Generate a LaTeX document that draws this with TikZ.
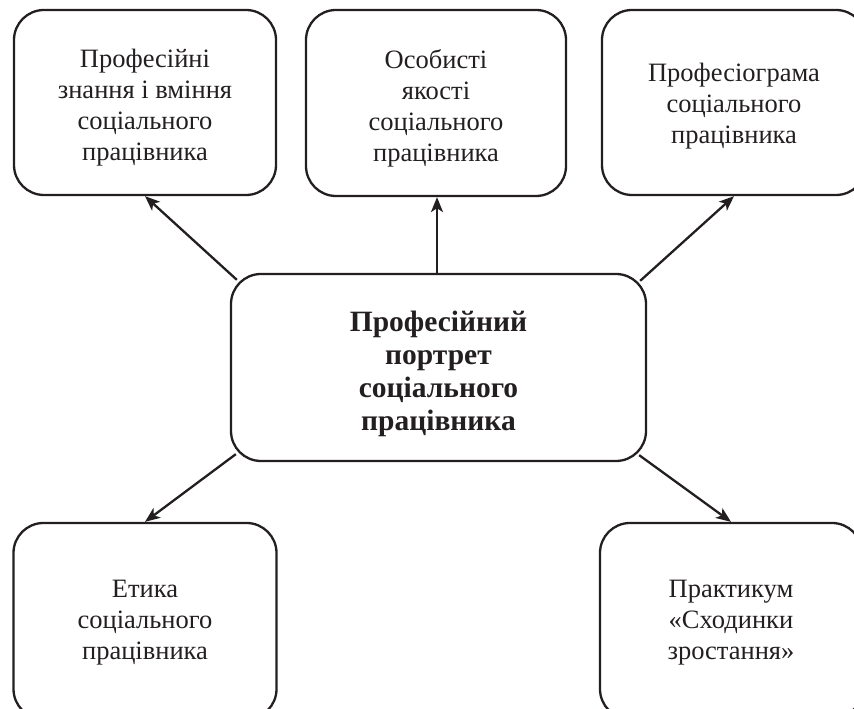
\documentclass[tikz,border=0pt]{standalone}
\usepackage{fontspec}
\setmainfont{Liberation Serif}
\usetikzlibrary{arrows.meta,calc}
\definecolor{ink}{HTML}{231F20}
\tikzset{
  box/.style={draw=ink, line width=2.3pt, rounded corners=30pt, inner sep=0pt},
  lbl/.style={align=center, inner sep=0pt, text=ink, font=\fontsize{26.5pt}{31pt}\selectfont},
  blbl/.style={align=center, inner sep=0pt, text=ink, font=\fontsize{29.5pt}{33pt}\selectfont\bfseries},
  arr/.style={draw=ink, line width=2.3pt, -{Stealth[length=15pt,width=12pt,inset=4pt]}}
}
\begin{document}
\begin{tikzpicture}[x=1pt,y=1pt]
\useasboundingbox (0,0) rectangle (854,709);
\clip (0,0) rectangle (854,709);
\node[box, minimum width=262pt, minimum height=185pt] (tl) at (145,606.5) {};
\node[box, minimum width=260pt, minimum height=186pt] (tm) at (436,606) {};
\node[box, minimum width=264pt, minimum height=185pt] (tr) at (734,606.5) {};
\node[box, minimum width=415pt, minimum height=187pt] (c) at (438.5,341.5) {};
\node[box, minimum width=263pt, minimum height=196pt] (bl) at (145,88) {};
\node[box, minimum width=262pt, minimum height=196pt] (br) at (731,88) {};
\node[lbl] (tlt) at ($(tl)+(0,-5)$) {Професійні\\знання і вміння\\соціального\\працівника};
\node[lbl] (tmt) at ($(tm)+(0,-5)$) {Особисті\\якості\\соціального\\працівника};
\node[lbl] (trt) at ($(tr)+(0,-4)$) {Професіограма\\соціального\\працівника};
\node[blbl] (ct) at ($(c)+(0,-6)$) {Професійний\\портрет\\соціального\\працівника};
\node[lbl] (blt) at ($(bl)+(0,-2)$) {Етика\\соціального\\працівника};
\node[lbl] (brt) at ($(br)+(0,-2)$) {Практикум\\«Сходинки\\зростання»};
\coordinate (s1) at ($(c.north west)+(7,-7)$);
\coordinate (s2) at ($(c.north east)+(-7,-8)$);
\coordinate (s3) at ($(c.south west)+(6,8)$);
\coordinate (s4) at ($(c.south east)+(-8,7)$);
\draw[arr] (s1) -- (tl.south);
\draw[arr] (c.north -| tm.south) ++(1,0) -- ($(tm.south)+(1,0)$);
\draw[arr] (s2) -- (tr.south);
\draw[arr] (s3) -- (bl.north);
\draw[arr] (s4) -- (br.north);
\end{tikzpicture}
\end{document}
